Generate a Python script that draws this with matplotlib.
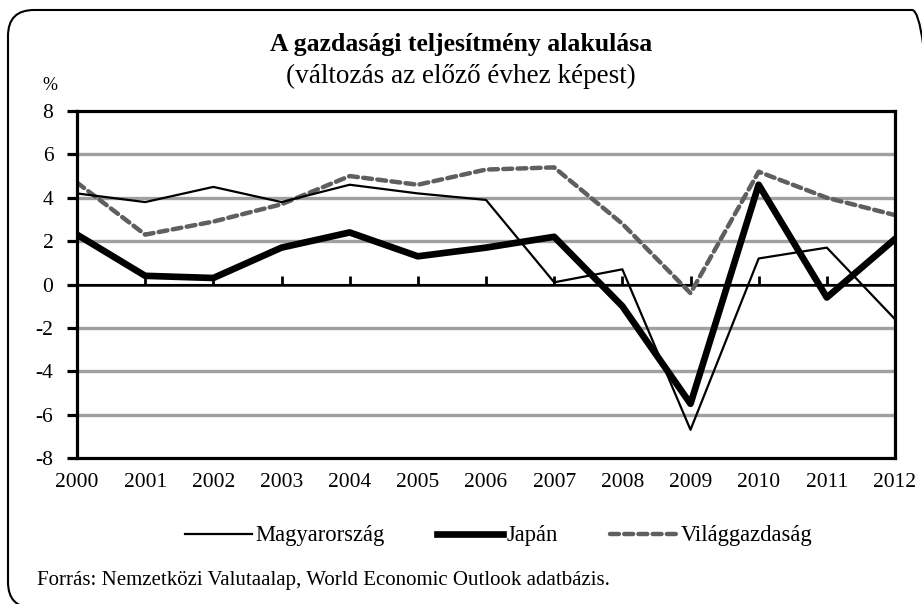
import matplotlib
matplotlib.use("Agg")
import matplotlib.pyplot as plt
from matplotlib.patches import FancyBboxPatch
from matplotlib.transforms import IdentityTransform

plt.rcParams["font.family"] = ["Liberation Serif", "DejaVu Serif"]

years = list(range(2000, 2013))
hungary = [4.2, 3.8, 4.5, 3.8, 4.6, 4.2, 3.9, 0.1, 0.7, -6.7, 1.2, 1.7, -1.6]
japan = [2.3, 0.4, 0.3, 1.7, 2.4, 1.3, 1.7, 2.2, -1.0, -5.5, 4.6, -0.6, 2.1]
world = [4.7, 2.3, 2.9, 3.7, 5.0, 4.6, 5.3, 5.4, 2.8, -0.4, 5.2, 4.0, 3.2]
yticks = [-8, -6, -4, -2, 0, 2, 4, 6, 8]

GRID = "#a0a0a0"
WORLD = "#5f5f5f"

fig = plt.figure(figsize=(9.22, 6.04), dpi=100)
ax = fig.add_axes([77 / 922, 1 - 458 / 604, (895 - 77) / 922, (458 - 111) / 604])

for y in yticks:
    if y not in (-8, 0, 8):
        ax.axhline(y, color=GRID, lw=2.4, zorder=1)
ax.axhline(0, color="black", lw=1.8, zorder=1.5)

ax.plot(years, hungary, color="black", lw=1.6, zorder=4, label="Magyarország")
ax.plot(years, japan, color="black", lw=4.8, zorder=3, label="Japán")
ax.plot(years, world, color=WORLD, lw=3.2, ls=(0, (2.0, 1.2)), dash_capstyle="round",
        zorder=2, label="Világgazdaság")

ax.set_xlim(2000, 2012)
ax.set_ylim(-8, 8)
ax.set_yticks(yticks)
ax.set_yticklabels([str(v) for v in yticks])
ax.set_xticks(years)
ax.set_xticklabels([str(v) for v in years])
ax.tick_params(axis="y", length=7, width=2.3, pad=10, labelsize=15.5, direction="out")
ax.tick_params(axis="x", length=0, pad=11, labelsize=15.5)
for s in ax.spines.values():
    s.set_linewidth(2.3)

# zero axis with tick marks pointing down
sec = ax.secondary_xaxis(0.5)
sec.set_xticks(years)
sec.set_xticklabels([])
sec.tick_params(length=6, width=2, direction="out")
sec.spines["bottom"].set_linewidth(1.8)

fig.text(0.5, 1 - 45 / 604, "A gazdasági teljesítmény alakulása", ha="center", va="center",
         fontsize=18.5, fontweight="bold")
fig.text(0.5, 1 - 76 / 604, "(változás az előző évhez képest)", ha="center", va="center",
         fontsize=19.5)
fig.text(50 / 922, 1 - 86 / 604, "%", ha="center", va="center", fontsize=13)

fig.legend(loc="center left", bbox_to_anchor=(185 / 922, 1 - 536 / 604), ncol=3, frameon=False,
           fontsize=16.3, handlelength=2.95, handletextpad=0.15, columnspacing=2.3,
           borderpad=0, borderaxespad=0)

fig.text(37 / 922, 1 - 580 / 604, "Forrás: Nemzetközi Valutaalap, World Economic Outlook adatbázis.",
         ha="left", va="center", fontsize=15)

frame = FancyBboxPatch((8, -4), 930, 598, boxstyle="round,pad=0,rounding_size=26",
                       transform=IdentityTransform(), fill=False, ec="black", lw=1.5)
fig.add_artist(frame)

fig.savefig("out.png", dpi=100)
